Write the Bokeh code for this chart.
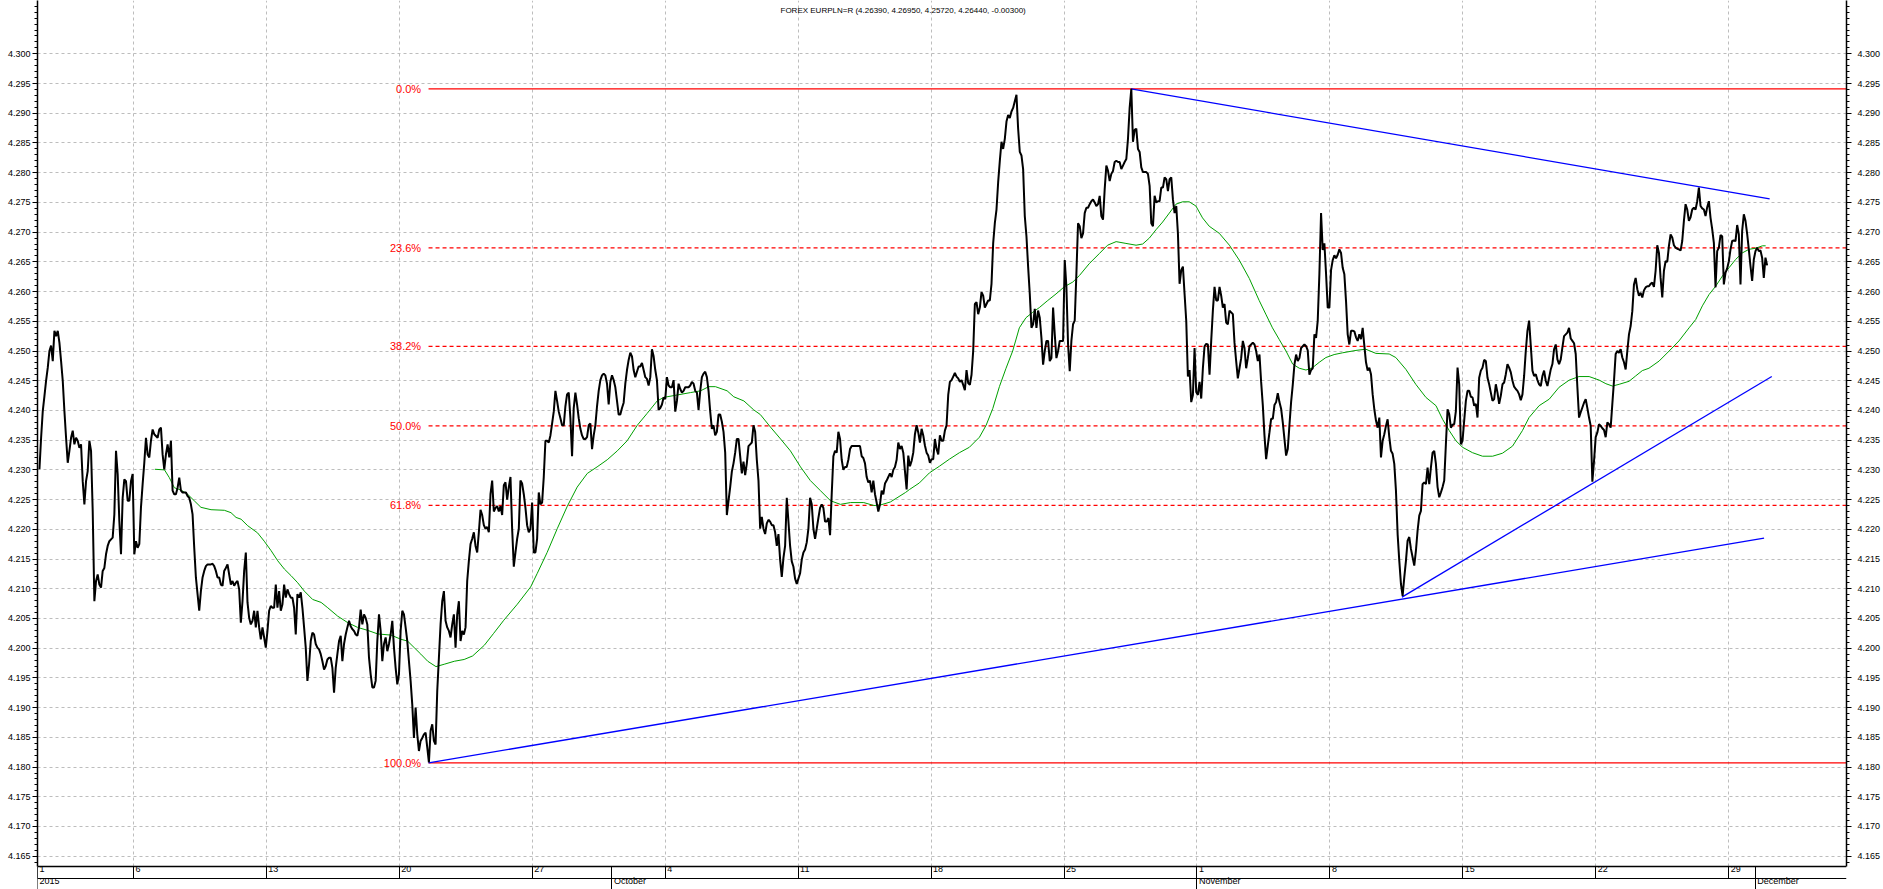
from bokeh.plotting import figure
from bokeh.models import (Range1d, LinearAxis, FixedTicker, PrintfTickFormatter, Label)
from bokeh.embed import file_html
from bokeh.resources import INLINE
from bokeh.core.properties import value

# ---------------- data ----------------
TITLE = "FOREX EURPLN=R (4.26390, 4.26950, 4.25720, 4.26440, -0.00300)"

# x axis = trading days since 1 Sep 2015 (weekends removed); 1.5 h bars
T0 = 0.466
DT = 0.0626

close = [
4.2301, 4.2354, 4.2399, 4.2424, 4.2450, 4.2472, 4.2500, 4.2509, 4.2483, 4.2534,
4.2525, 4.2534, 4.2514, 4.2483, 4.2450, 4.2399, 4.2354, 4.2312, 4.2332, 4.2354,
4.2366, 4.2343, 4.2354, 4.2349, 4.2337, 4.2343, 4.2281, 4.2242, 4.2281, 4.2298,
4.2349, 4.2332, 4.2231, 4.2079, 4.2113, 4.2124, 4.2107, 4.2102, 4.2130, 4.2135,
4.2158, 4.2172, 4.2180, 4.2183, 4.2186, 4.2225, 4.2332, 4.2293, 4.2214, 4.2158,
4.2253, 4.2284, 4.2281, 4.2248, 4.2248, 4.2281, 4.2293, 4.2158, 4.2180, 4.2169,
4.2175, 4.2237, 4.2276, 4.2312, 4.2354, 4.2326, 4.2321, 4.2349, 4.2368, 4.2360,
4.2357, 4.2354, 4.2368, 4.2371, 4.2326, 4.2301, 4.2326, 4.2343, 4.2321, 4.2349,
4.2265, 4.2259, 4.2259, 4.2270, 4.2287, 4.2265, 4.2262, 4.2262, 4.2262, 4.2256,
4.2253, 4.2242, 4.2225, 4.2169, 4.2119, 4.2091, 4.2063, 4.2096, 4.2119, 4.2130,
4.2138, 4.2141, 4.2141, 4.2141, 4.2142, 4.2138, 4.2130, 4.2119, 4.2119, 4.2107,
4.2105, 4.2130, 4.2135, 4.2141, 4.2124, 4.2107, 4.2113, 4.2105, 4.2110, 4.2113,
4.2099, 4.2043, 4.2079, 4.2130, 4.2161, 4.2077, 4.2051, 4.2040, 4.2046, 4.2063,
4.2035, 4.2063, 4.2035, 4.2015, 4.2035, 4.2018, 4.2001, 4.2029, 4.2063, 4.2071,
4.2068, 4.2068, 4.2107, 4.2068, 4.2096, 4.2063, 4.2074, 4.2107, 4.2085, 4.2099,
4.2091, 4.2085, 4.2085, 4.2068, 4.2023, 4.2091, 4.2085, 4.2094, 4.2068, 4.2035,
4.2001, 4.1945, 4.1973, 4.2012, 4.2026, 4.2023, 4.2007, 4.2001, 4.1998, 4.1990,
4.1978, 4.1964, 4.1970, 4.1981, 4.1984, 4.1984, 4.1967, 4.1925, 4.1967, 4.1990,
4.2012, 4.2021, 4.1978, 4.2007, 4.2023, 4.2035, 4.2046, 4.2037, 4.2032, 4.2029,
4.2023, 4.2021, 4.2035, 4.2065, 4.2040, 4.2057, 4.2051, 4.2040, 4.1984, 4.1956,
4.1934, 4.1934, 4.1945, 4.2012, 4.2057, 4.2029, 4.1978, 4.2007, 4.2018, 4.1995,
4.2007, 4.2023, 4.2046, 4.2001, 4.1967, 4.1939, 4.1956, 4.2029, 4.2063, 4.2057,
4.2035, 4.2012, 4.1978, 4.1945, 4.1905, 4.1849, 4.1900, 4.1855, 4.1827, 4.1844,
4.1849, 4.1855, 4.1858, 4.1833, 4.1808, 4.1861, 4.1872, 4.1844, 4.1838, 4.1928,
4.1984, 4.2040, 4.2079, 4.2096, 4.2046, 4.2035, 4.2029, 4.2018, 4.2040, 4.2057,
4.2001, 4.2057, 4.2079, 4.2012, 4.2029, 4.2023, 4.2035, 4.2113, 4.2147, 4.2175,
4.2184, 4.2195, 4.2172, 4.2161, 4.2195, 4.2233, 4.2224, 4.2207, 4.2201, 4.2204,
4.2195, 4.2259, 4.2282, 4.2230, 4.2236, 4.2239, 4.2230, 4.2239, 4.2224, 4.2274,
4.2279, 4.2250, 4.2271, 4.2288, 4.2201, 4.2137, 4.2161, 4.2184, 4.2201, 4.2282,
4.2277, 4.2259, 4.2236, 4.2207, 4.2195, 4.2201, 4.2245, 4.2161, 4.2161, 4.2184,
4.2262, 4.2242, 4.2245, 4.2288, 4.2349, 4.2349, 4.2346, 4.2358, 4.2378, 4.2398,
4.2433, 4.2416, 4.2398, 4.2387, 4.2375, 4.2375, 4.2407, 4.2427, 4.2430, 4.2387,
4.2323, 4.2404, 4.2430, 4.2410, 4.2387, 4.2369, 4.2358, 4.2352, 4.2352, 4.2355,
4.2375, 4.2378, 4.2335, 4.2358, 4.2375, 4.2407, 4.2433, 4.2451, 4.2459, 4.2462,
4.2459, 4.2445, 4.2410, 4.2448, 4.2459, 4.2451, 4.2439, 4.2416, 4.2393, 4.2393,
4.2404, 4.2413, 4.2445, 4.2468, 4.2485, 4.2497, 4.2491, 4.2468, 4.2456, 4.2465,
4.2474, 4.2474, 4.2480, 4.2468, 4.2456, 4.2453, 4.2442, 4.2456, 4.2503, 4.2491,
4.2468, 4.2451, 4.2401, 4.2404, 4.2410, 4.2422, 4.2419, 4.2456, 4.2442, 4.2439,
4.2439, 4.2451, 4.2398, 4.2416, 4.2445, 4.2436, 4.2430, 4.2433, 4.2439, 4.2439,
4.2439, 4.2442, 4.2448, 4.2445, 4.2433, 4.2430, 4.2401, 4.2433, 4.2456, 4.2462,
4.2465, 4.2456, 4.2433, 4.2398, 4.2369, 4.2375, 4.2358, 4.2364, 4.2393, 4.2393,
4.2381, 4.2364, 4.2329, 4.2224, 4.2248, 4.2271, 4.2297, 4.2311, 4.2329, 4.2352,
4.2352, 4.2323, 4.2294, 4.2314, 4.2291, 4.2311, 4.2340, 4.2343, 4.2346, 4.2375,
4.2364, 4.2317, 4.2282, 4.2201, 4.2221, 4.2201, 4.2192, 4.2210, 4.2216, 4.2213,
4.2207, 4.2207, 4.2195, 4.2172, 4.2192, 4.2149, 4.2120, 4.2152, 4.2172, 4.2253,
4.2213, 4.2172, 4.2146, 4.2137, 4.2117, 4.2108, 4.2117, 4.2126, 4.2149, 4.2161,
4.2166, 4.2178, 4.2201, 4.2253, 4.2242, 4.2201, 4.2184, 4.2201, 4.2219, 4.2236,
4.2242, 4.2236, 4.2213, 4.2213, 4.2219, 4.2190, 4.2259, 4.2323, 4.2332, 4.2329,
4.2364, 4.2352, 4.2317, 4.2300, 4.2305, 4.2305, 4.2317, 4.2335, 4.2340, 4.2340,
4.2340, 4.2340, 4.2340, 4.2340, 4.2323, 4.2320, 4.2311, 4.2288, 4.2279, 4.2282,
4.2262, 4.2282, 4.2259, 4.2245, 4.2230, 4.2242, 4.2265, 4.2259, 4.2277, 4.2282,
4.2288, 4.2294, 4.2288, 4.2300, 4.2305, 4.2317, 4.2346, 4.2335, 4.2340, 4.2329,
4.2298, 4.2267, 4.2324, 4.2306, 4.2315, 4.2329, 4.2360, 4.2375, 4.2363, 4.2346,
4.2369, 4.2358, 4.2341, 4.2329, 4.2324, 4.2312, 4.2318, 4.2318, 4.2352, 4.2335,
4.2326, 4.2358, 4.2349, 4.2349, 4.2366, 4.2375, 4.2426, 4.2448, 4.2451, 4.2457,
4.2463, 4.2457, 4.2454, 4.2448, 4.2451, 4.2443, 4.2434, 4.2468, 4.2446, 4.2443,
4.2460, 4.2500, 4.2579, 4.2582, 4.2562, 4.2573, 4.2599, 4.2593, 4.2573, 4.2579,
4.2585, 4.2585, 4.2613, 4.2681, 4.2715, 4.2738, 4.2784, 4.2820, 4.2852, 4.2840,
4.2857, 4.2886, 4.2897, 4.2892, 4.2903, 4.2909, 4.2920, 4.2931, 4.2874, 4.2835,
4.2829, 4.2806, 4.2727, 4.2693, 4.2642, 4.2596, 4.2539, 4.2545, 4.2571, 4.2539,
4.2568, 4.2556, 4.2522, 4.2477, 4.2500, 4.2517, 4.2517, 4.2483, 4.2488, 4.2573,
4.2528, 4.2488, 4.2500, 4.2517, 4.2517, 4.2517, 4.2653, 4.2608, 4.2511, 4.2466,
4.2517, 4.2545, 4.2551, 4.2630, 4.2715, 4.2710, 4.2690, 4.2698, 4.2732, 4.2741,
4.2741, 4.2747, 4.2752, 4.2755, 4.2750, 4.2744, 4.2747, 4.2761, 4.2727, 4.2721,
4.2772, 4.2812, 4.2803, 4.2786, 4.2798, 4.2803, 4.2818, 4.2820, 4.2818, 4.2818,
4.2806, 4.2812, 4.2818, 4.2823, 4.2857, 4.2909, 4.2941, 4.2852, 4.2872, 4.2874,
4.2840, 4.2835, 4.2809, 4.2801, 4.2801, 4.2801, 4.2798, 4.2778, 4.2715, 4.2710,
4.2761, 4.2750, 4.2752, 4.2752, 4.2775, 4.2775, 4.2792, 4.2789, 4.2769, 4.2789,
4.2792, 4.2755, 4.2732, 4.2744, 4.2698, 4.2613, 4.2636, 4.2642, 4.2596, 4.2551,
4.2457, 4.2468, 4.2414, 4.2426, 4.2505, 4.2431, 4.2426, 4.2448, 4.2420, 4.2471,
4.2508, 4.2512, 4.2511, 4.2460, 4.2517, 4.2568, 4.2608, 4.2585, 4.2585, 4.2608,
4.2593, 4.2573, 4.2579, 4.2548, 4.2545, 4.2568, 4.2565, 4.2562, 4.2514, 4.2483,
4.2454, 4.2471, 4.2488, 4.2517, 4.2505, 4.2471, 4.2488, 4.2508, 4.2511, 4.2514,
4.2511, 4.2500, 4.2483, 4.2494, 4.2448, 4.2409, 4.2358, 4.2318, 4.2341, 4.2363,
4.2386, 4.2386, 4.2409, 4.2414, 4.2429, 4.2414, 4.2403, 4.2380, 4.2352, 4.2324,
4.2335, 4.2375, 4.2414, 4.2443, 4.2477, 4.2494, 4.2483, 4.2488, 4.2505, 4.2508,
4.2511, 4.2508, 4.2501, 4.2460, 4.2468, 4.2471, 4.2528, 4.2522, 4.2551, 4.2630,
4.2732, 4.2670, 4.2681, 4.2630, 4.2573, 4.2573, 4.2636, 4.2653, 4.2661,
4.2656, 4.2662, 4.2671, 4.2665, 4.2640, 4.2629, 4.2584, 4.2528, 4.2511, 4.2534,
4.2534, 4.2533, 4.2523, 4.2517, 4.2528, 4.2520, 4.2539, 4.2509, 4.2481, 4.2467,
4.2472, 4.2461, 4.2427, 4.2402, 4.2383, 4.2371, 4.2388, 4.2321, 4.2349, 4.2360,
4.2374, 4.2385, 4.2355, 4.2332, 4.2327, 4.2310, 4.2265, 4.2192, 4.2147, 4.2108,
4.2088, 4.2119, 4.2147, 4.2181, 4.2187, 4.2167, 4.2153, 4.2139, 4.2164, 4.2198,
4.2223, 4.2231, 4.2276, 4.2279, 4.2276, 4.2304, 4.2276, 4.2304, 4.2329, 4.2332,
4.2310, 4.2271, 4.2254, 4.2262, 4.2271, 4.2282, 4.2343, 4.2402, 4.2394, 4.2371,
4.2376, 4.2377, 4.2399, 4.2472, 4.2444, 4.2343, 4.2349, 4.2383, 4.2416, 4.2433,
4.2433, 4.2423, 4.2422, 4.2408, 4.2411, 4.2388, 4.2455, 4.2467, 4.2472, 4.2485,
4.2483, 4.2455, 4.2444, 4.2430, 4.2416, 4.2419, 4.2444, 4.2430, 4.2411, 4.2425,
4.2444, 4.2447, 4.2461, 4.2478, 4.2472, 4.2464, 4.2450, 4.2440, 4.2436, 4.2433,
4.2427, 4.2417, 4.2427, 4.2458, 4.2500, 4.2534, 4.2551, 4.2509, 4.2467, 4.2458,
4.2461, 4.2451, 4.2444, 4.2441, 4.2458, 4.2467, 4.2450, 4.2441, 4.2455, 4.2469,
4.2478, 4.2503, 4.2511, 4.2486, 4.2478, 4.2486, 4.2506, 4.2525, 4.2528, 4.2531,
4.2539, 4.2521, 4.2517, 4.2513, 4.2495, 4.2439, 4.2388, 4.2397, 4.2405, 4.2413,
4.2419, 4.2404, 4.2388, 4.2374, 4.2280, 4.2315, 4.2355, 4.2363, 4.2377, 4.2374,
4.2370, 4.2367, 4.2355, 4.2380, 4.2377, 4.2371, 4.2411, 4.2450, 4.2495, 4.2500,
4.2497, 4.2503, 4.2489, 4.2481, 4.2469, 4.2500, 4.2528, 4.2542, 4.2567, 4.2612,
4.2623, 4.2604, 4.2593, 4.2598, 4.2590, 4.2602, 4.2607, 4.2609, 4.2609, 4.2613,
4.2615, 4.2608, 4.2635, 4.2678, 4.2665, 4.2623, 4.2590, 4.2635, 4.2651, 4.2650,
4.2677, 4.2696, 4.2691, 4.2678, 4.2674, 4.2672, 4.2671, 4.2669, 4.2685, 4.2719,
4.2747, 4.2738, 4.2719, 4.2725, 4.2738, 4.2741, 4.2738, 4.2752, 4.2775, 4.2744,
4.2740, 4.2738, 4.2727, 4.2742, 4.2752, 4.2724, 4.2705, 4.2682, 4.2607, 4.2668,
4.2674, 4.2695, 4.2693, 4.2612, 4.2632, 4.2639, 4.2651, 4.2671, 4.2685, 4.2686,
4.2685, 4.2712, 4.2696, 4.2612, 4.2702, 4.2730, 4.2719, 4.2697, 4.2671, 4.2643,
4.2618, 4.2654, 4.2668, 4.2674, 4.2668, 4.2669, 4.2657, 4.2623, 4.2657, 4.2644,
]
t_close = [T0 + i * DT for i in range(len(close))]

# green moving average
ma_t = [4.81, 5.17, 5.35, 5.54, 5.79, 6.04, 6.29, 6.54, 6.92, 7.42, 7.67, 7.86, 8.05, 8.30, 8.67,
        8.92, 9.18, 9.43, 9.68, 9.93, 10.18, 10.43, 10.74, 11.06, 11.31, 11.68, 12.06, 12.43,
        12.81, 13.19, 13.69, 14.06, 14.31, 14.56, 14.81, 15.07, 15.38, 15.69, 16.07, 16.44,
        16.76, 17.20, 17.55, 17.93, 18.44, 18.94, 19.19, 19.56, 19.94, 20.32, 20.69, 21.07,
        21.44, 21.82, 22.20, 22.57, 22.95, 23.32, 23.70, 23.95, 24.45, 24.95, 25.33, 25.64,
        25.89, 26.33, 26.58, 26.96, 27.33, 27.58, 27.96, 28.34, 28.71, 29.09, 29.46, 29.84,
        30.22, 30.59, 30.97, 31.47, 31.85, 32.10, 32.47, 32.72, 33.04, 33.19, 33.56, 33.94,
        34.31, 34.69, 35.07, 35.44, 35.82, 36.07, 36.32, 36.57, 36.82, 37.07, 37.32, 37.57,
        37.82, 38.07, 38.39, 38.70, 39.01, 39.33, 39.58, 39.95, 40.33, 40.64, 40.96, 41.33,
        41.71, 41.96, 42.21, 42.46, 42.71, 42.96, 43.21, 43.46, 43.71, 43.96, 44.21, 44.46,
        44.84, 45.22, 45.59, 45.97, 46.34, 46.59, 46.84, 47.10, 47.35, 47.60, 47.85, 48.10,
        48.35, 48.60, 48.85, 49.16, 49.48, 49.98, 50.35, 50.73, 51.23, 51.48, 51.86, 52.23,
        52.61, 52.99, 53.24, 53.49, 53.74, 53.99, 54.36, 54.74, 55.12, 55.49, 55.87, 56.24,
        56.49, 56.87, 57.25, 57.62, 58.00, 58.37, 58.75, 59.13, 59.38, 59.63, 59.88, 60.25,
        60.50, 60.75, 61.00, 61.38, 61.76, 62.13, 62.51, 62.76, 63.01, 63.26, 63.51, 63.76,
        64.01, 64.26, 64.51, 64.76, 65.02, 65.27, 65.39]
ma_v = [4.2301, 4.2300, 4.2287, 4.2270, 4.2266, 4.2259, 4.2248, 4.2237, 4.2233, 4.2232, 4.2228,
        4.2220, 4.2217, 4.2206, 4.2194, 4.2180, 4.2164, 4.2147, 4.2133, 4.2122, 4.2110, 4.2096,
        4.2082, 4.2077, 4.2068, 4.2054, 4.2043, 4.2035, 4.2030, 4.2024, 4.2022, 4.2015, 4.2012,
        4.2001, 4.1990, 4.1978, 4.1969, 4.1973, 4.1978, 4.1981, 4.1987, 4.2005, 4.2025, 4.2047,
        4.2074, 4.2103, 4.2126, 4.2161, 4.2201, 4.2239, 4.2271, 4.2294, 4.2305, 4.2317, 4.2332,
        4.2349, 4.2375, 4.2395, 4.2416, 4.2422, 4.2426, 4.2430, 4.2433, 4.2440, 4.2440, 4.2433,
        4.2423, 4.2416, 4.2401, 4.2393, 4.2372, 4.2352, 4.2332, 4.2305, 4.2282, 4.2265, 4.2248,
        4.2242, 4.2245, 4.2245, 4.2240, 4.2241, 4.2246, 4.2253, 4.2262, 4.2267, 4.2278, 4.2295,
        4.2306, 4.2318, 4.2329, 4.2338, 4.2355, 4.2375, 4.2403, 4.2440, 4.2471, 4.2500, 4.2539,
        4.2556, 4.2565, 4.2573, 4.2585, 4.2596, 4.2608, 4.2616, 4.2627, 4.2647, 4.2664, 4.2678,
        4.2684, 4.2681, 4.2678, 4.2680, 4.2690, 4.2704, 4.2717, 4.2732, 4.2747, 4.2751, 4.2751,
        4.2744, 4.2724, 4.2710, 4.2698, 4.2678, 4.2653, 4.2622, 4.2585, 4.2562, 4.2539, 4.2519,
        4.2500, 4.2478, 4.2471, 4.2468, 4.2472, 4.2481, 4.2489, 4.2494, 4.2497, 4.2501, 4.2503,
        4.2496, 4.2495, 4.2489, 4.2469, 4.2444, 4.2422, 4.2408, 4.2385, 4.2366, 4.2349, 4.2338,
        4.2329, 4.2323, 4.2323, 4.2328, 4.2340, 4.2366, 4.2388, 4.2408, 4.2419, 4.2439, 4.2451,
        4.2457, 4.2457, 4.2451, 4.2445, 4.2441, 4.2444, 4.2449, 4.2458, 4.2467, 4.2471, 4.2483,
        4.2500, 4.2517, 4.2539, 4.2553, 4.2576, 4.2595, 4.2609, 4.2626, 4.2640, 4.2654, 4.2665,
        4.2671, 4.2673, 4.2677, 4.2677]

# blue trend lines: (t0, v0, t1, v1)
trend_lines = [
    (41.52, 4.2941, 65.54, 4.2756),
    (15.10, 4.1807, 65.33, 4.2185),
    (51.71, 4.2086, 65.62, 4.2457),
]

# Fibonacci retracement
FIB_HIGH = 4.2941
FIB_LOW = 4.1807
FIB_START = 15.10
fib_ratios = [0.0, 0.236, 0.382, 0.5, 0.618, 1.0]
fib_labels = ["0.0%", "23.6%", "38.2%", "50.0%", "61.8%", "100.0%"]

# axes
X_START, X_END = 0.393, 68.43
Y_START, Y_END = 4.16327, 4.30897      # price area (bottom edge = date axis line)
y_ticks = [round(4.165 + 0.005 * i, 3) for i in range(28)]
y_minor = [round(4.164 + 0.001 * i, 3) for i in range(145)]
week_ticks = [X_START, 4, 9, 14, 19, 24, 29, 34, 39, 44, 49, 54, 59, 64]
week_labels = ["1", "6", "13", "20", "27", "4", "11", "18", "25", "1", "8", "15", "22", "29"]
month_ticks = [X_START, 22, 44, 65]
month_labels = ["2015", "October", "November", "December"]

FONT = "Liberation Sans"
W, H = 1883, 889
B_LEFT, B_RIGHT = 37, 35
PRICE_H = 866                          # height of the price area in px
DATE_H = H - PRICE_H                   # two rows of date labels under it
FRAME_W = W - B_LEFT - B_RIGHT
PX_Y = (Y_END - Y_START) / PRICE_H     # data units per pixel (y)
PX_X = (X_END - X_START) / FRAME_W     # data units per pixel (x)
LABEL_SHIFT = 2 * PX_X                 # labels start 2 px right of their tick
Y_FRAME_START = Y_START - DATE_H * PX_Y

# ---------------- figure ----------------
p = figure(width=W, height=H, output_backend="svg", toolbar_location=None,
           x_range=Range1d(X_START, X_END), y_range=Range1d(Y_FRAME_START, Y_END),
           x_axis_location=None, y_axis_location=None,
           min_border_left=B_LEFT, min_border_right=B_RIGHT,
           min_border_top=0, min_border_bottom=0)
p.outline_line_color = None
p.background_fill_color = "white"
p.border_fill_color = "white"

# grids
p.xgrid.ticker = FixedTicker(ticks=week_ticks[1:])
p.ygrid.ticker = FixedTicker(ticks=y_ticks)
for g in (p.xgrid, p.ygrid):
    g.grid_line_color = "#BDBDBD"
    g.grid_line_dash = "3 3"
    g.grid_line_width = 1
xg = p.xgrid[0]
if "cross_bounds" in xg.properties():
    xg.cross_bounds = (Y_START, Y_END)
else:
    p.quad(left=[X_START], right=[X_END], bottom=[Y_FRAME_START], top=[Y_START],
           fill_color="white", line_color=None)

def y_axis(standoff):
    ax = LinearAxis(ticker=FixedTicker(ticks=y_ticks, minor_ticks=y_minor),
                    formatter=PrintfTickFormatter(format="%.3f"), bounds=(Y_START, Y_END))
    ax.axis_line_color = "black"
    ax.axis_line_width = 1.5
    ax.major_tick_out = 5
    ax.major_tick_in = 0
    ax.minor_tick_out = 3
    ax.minor_tick_in = 0
    ax.major_tick_line_color = "black"
    ax.minor_tick_line_color = "black"
    ax.major_label_text_font = FONT
    ax.major_label_text_font_size = "9px"
    ax.major_label_text_color = "black"
    ax.major_label_standoff = standoff
    return ax

p.add_layout(y_axis(2), "left")
p.add_layout(y_axis(6), "right")

def date_axis(location, tick_pos, labels, tick_in, tick_out, line_width, standoff):
    label_pos = [tp + LABEL_SHIFT for tp in tick_pos]
    ax = LinearAxis(ticker=FixedTicker(ticks=label_pos, minor_ticks=tick_pos),
                    fixed_location=location)
    ax.major_label_overrides = {lp: lab for lp, lab in zip(label_pos, labels)}
    ax.axis_line_color = "black"
    ax.axis_line_width = line_width
    ax.major_tick_in = 0
    ax.major_tick_out = 0
    ax.minor_tick_in = tick_in
    ax.minor_tick_out = tick_out
    ax.minor_tick_line_color = "black"
    ax.major_label_orientation = -1e-6      # left-aligned at the label position
    ax.major_label_text_font = FONT
    ax.major_label_text_font_size = "9px"
    ax.major_label_text_color = "black"
    ax.major_label_standoff = standoff
    return ax

# week row (price-area bottom .. +12 px) and month row (+12 .. +23 px)
p.add_layout(date_axis(Y_START, week_ticks, week_labels, 0, 12, 1.5, -10), "below")
p.add_layout(date_axis(Y_START - 12 * PX_Y, month_ticks, month_labels, 12, 11, 1, -9), "below")

# fib lines
fib_levels = [FIB_HIGH - r * (FIB_HIGH - FIB_LOW) for r in fib_ratios]
solid = [lv for r, lv in zip(fib_ratios, fib_levels) if r in (0.0, 1.0)]
dashed = [lv for r, lv in zip(fib_ratios, fib_levels) if r not in (0.0, 1.0)]
p.segment(x0=[FIB_START] * len(solid), y0=solid, x1=[X_END] * len(solid), y1=solid,
          line_color="#FF0000", line_width=1.3)
p.segment(x0=[FIB_START] * len(dashed), y0=dashed, x1=[X_END] * len(dashed), y1=dashed,
          line_color="#FF0000", line_width=1.3, line_dash="4 3")
p.text(x=[FIB_START - 0.28] * len(fib_levels), y=fib_levels, text=fib_labels,
       text_align="right", text_baseline="middle", text_color="#FF0000",
       text_font=value(FONT), text_font_size="11px")

# trend lines
for (a0, b0, a1, b1) in trend_lines:
    p.line([a0, a1], [b0, b1], line_color="#0000FF", line_width=1.3)

# moving average and price
p.line(ma_t, ma_v, line_color="#00A000", line_width=1)
p.line(t_close, close, line_color="black", line_width=2)

p.add_layout(Label(x=743, y=H - 10, x_units="screen", y_units="screen", text=TITLE,
                   text_font=FONT, text_font_size="8px", text_color="black",
                   text_align="left", text_baseline="alphabetic"))

open("out.html", "w").write(file_html(p, INLINE))
